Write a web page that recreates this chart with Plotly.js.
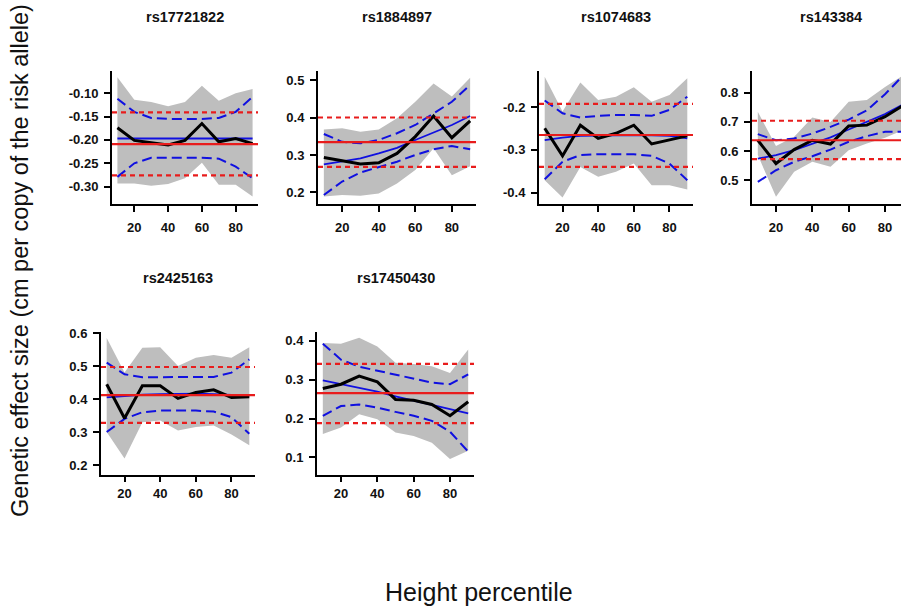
<!DOCTYPE html>
<html>
<head>
<meta charset="utf-8">
<script src="https://cdn.plot.ly/plotly-3.0.1.min.js"></script>
<style>
html,body{margin:0;padding:0;overflow:hidden;background:#fff;}
#chart{width:940px;height:613px;}
</style>
</head>
<body>
<div id="chart"></div>
<script>
// ---- data ----
const xPct = [10, 20, 30, 40, 50, 60, 70, 80, 90];
const xTickVals = [20, 40, 60, 80];
const xTickText = ['20', '40', '60', '80'];

const snps = ['rs17721822', 'rs1884897', 'rs1074683', 'rs143384', 'rs2425163', 'rs17450430'];

// rs17721822
const est1   = [-0.174, -0.201, -0.206, -0.211, -0.201, -0.165, -0.204, -0.197, -0.208];
const ciLo1  = [-0.293, -0.293, -0.298, -0.294, -0.282, -0.249, -0.296, -0.296, -0.321];
const ciHi1  = [-0.066, -0.114, -0.119, -0.128, -0.119, -0.084, -0.116, -0.100, -0.091];
const fit1   = [-0.197, -0.197, -0.197, -0.197, -0.197, -0.197, -0.197, -0.197, -0.197];
const fitLo1 = [-0.279, -0.250, -0.238, -0.238, -0.238, -0.238, -0.240, -0.257, -0.282];
const fitHi1 = [-0.112, -0.140, -0.153, -0.155, -0.155, -0.155, -0.153, -0.140, -0.108];

// rs1884897
const est2   = [0.293, 0.285, 0.276, 0.279, 0.304, 0.349, 0.404, 0.346, 0.391];
const ciLo2  = [0.189, 0.193, 0.191, 0.197, 0.224, 0.260, 0.318, 0.246, 0.270];
const ciHi2  = [0.368, 0.371, 0.362, 0.368, 0.398, 0.442, 0.491, 0.456, 0.506];
const fit2   = [0.275, 0.282, 0.291, 0.304, 0.319, 0.340, 0.359, 0.380, 0.404];
const fitLo2 = [0.193, 0.229, 0.253, 0.267, 0.282, 0.300, 0.315, 0.324, 0.315];
const fitHi2 = [0.356, 0.335, 0.331, 0.340, 0.358, 0.380, 0.411, 0.442, 0.487];

// rs1074683
const est3   = [-0.249, -0.314, -0.242, -0.273, -0.261, -0.242, -0.286, -0.277, -0.267];
const ciLo3  = [-0.371, -0.412, -0.340, -0.363, -0.351, -0.332, -0.383, -0.383, -0.393];
const ciHi3  = [-0.128, -0.210, -0.142, -0.183, -0.175, -0.153, -0.187, -0.171, -0.132];
const fit3   = [-0.277, -0.271, -0.267, -0.266, -0.265, -0.265, -0.266, -0.267, -0.273];
const fitLo3 = [-0.369, -0.328, -0.312, -0.310, -0.310, -0.310, -0.314, -0.332, -0.371];
const fitHi3 = [-0.184, -0.214, -0.224, -0.220, -0.218, -0.218, -0.220, -0.206, -0.175];

// rs143384
const est4   = [0.637, 0.557, 0.605, 0.637, 0.624, 0.686, 0.689, 0.718, 0.757];
const ciLo4  = [0.586, 0.443, 0.529, 0.563, 0.546, 0.603, 0.626, 0.646, 0.672];
const ciHi4  = [0.735, 0.617, 0.649, 0.715, 0.700, 0.769, 0.775, 0.820, 0.860];
const fit4   = [0.574, 0.586, 0.603, 0.624, 0.647, 0.674, 0.700, 0.727, 0.760];
const fitLo4 = [0.494, 0.534, 0.563, 0.582, 0.605, 0.632, 0.651, 0.666, 0.666];
const fitHi4 = [0.658, 0.637, 0.643, 0.660, 0.683, 0.708, 0.740, 0.795, 0.860];

// rs2425163
const est5   = [0.445, 0.342, 0.440, 0.440, 0.402, 0.420, 0.428, 0.405, 0.407];
const ciLo5  = [0.300, 0.220, 0.330, 0.335, 0.305, 0.315, 0.320, 0.293, 0.260];
const ciHi5  = [0.585, 0.480, 0.555, 0.557, 0.500, 0.525, 0.533, 0.525, 0.557];
const fit5   = [0.405, 0.410, 0.413, 0.415, 0.416, 0.416, 0.415, 0.413, 0.410];
const fitLo5 = [0.300, 0.340, 0.360, 0.365, 0.365, 0.365, 0.362, 0.345, 0.295];
const fitHi5 = [0.510, 0.475, 0.466, 0.466, 0.467, 0.467, 0.467, 0.480, 0.520];

// rs17450430
const est6   = [0.277, 0.288, 0.309, 0.294, 0.249, 0.247, 0.236, 0.207, 0.243];
const ciLo6  = [0.160, 0.177, 0.211, 0.198, 0.164, 0.155, 0.138, 0.096, 0.117];
const ciHi6  = [0.394, 0.392, 0.407, 0.385, 0.343, 0.340, 0.334, 0.317, 0.377];
const fit6   = [0.298, 0.288, 0.279, 0.269, 0.257, 0.246, 0.235, 0.224, 0.213];
const fitLo6 = [0.207, 0.232, 0.236, 0.228, 0.217, 0.207, 0.194, 0.166, 0.115];
const fitHi6 = [0.392, 0.351, 0.333, 0.323, 0.313, 0.302, 0.292, 0.288, 0.313];

// overall (pooled) estimate and its CI per SNP
const overall   = [-0.209, 0.334, -0.265, 0.637, 0.412, 0.265];
const overallLo = [-0.276, 0.268, -0.340, 0.572, 0.328, 0.188];
const overallHi = [-0.141, 0.400, -0.192, 0.704, 0.497, 0.340];

// y tick labels per panel
const yTickVals = [
  [-0.30, -0.25, -0.20, -0.15, -0.10],
  [0.2, 0.3, 0.4, 0.5],
  [-0.4, -0.3, -0.2],
  [0.5, 0.6, 0.7, 0.8],
  [0.2, 0.3, 0.4, 0.5, 0.6],
  [0.1, 0.2, 0.3, 0.4]
];
const yTickText = [
  ['-0.30', '-0.25', '-0.20', '-0.15', '-0.10'],
  ['0.2', '0.3', '0.4', '0.5'],
  ['-0.4', '-0.3', '-0.2'],
  ['0.5', '0.6', '0.7', '0.8'],
  ['0.2', '0.3', '0.4', '0.5', '0.6'],
  ['0.1', '0.2', '0.3', '0.4']
];

const xTitle = 'Height percentile';
const yTitle = 'Genetic effect size (cm per copy of the risk allele)';

// ---- layout geometry (pixels) ----
const W = 940, H = 613;
const xRange = [6.8, 93.2];
const yRanges = [[-0.337, -0.052], [0.169, 0.525], [-0.427, -0.114], [0.418, 0.876], [0.17, 0.603], [0.055, 0.422]];
const panelX = [[112, 258], [318, 476], [539, 693], [752, 909], [101, 255], [317, 474]];
const panelY = [[70.7, 204], [70.7, 204], [70.7, 204], [70.7, 204], [332, 475], [332, 475]];

const ests = [est1, est2, est3, est4, est5, est6];
const ciLos = [ciLo1, ciLo2, ciLo3, ciLo4, ciLo5, ciLo6];
const ciHis = [ciHi1, ciHi2, ciHi3, ciHi4, ciHi5, ciHi6];
const fits = [fit1, fit2, fit3, fit4, fit5, fit6];
const fitLos = [fitLo1, fitLo2, fitLo3, fitLo4, fitLo5, fitLo6];
const fitHis = [fitHi1, fitHi2, fitHi3, fitHi4, fitHi5, fitHi6];

const BLUE = '#1010e0', RED = '#e81c1c', GRAY = '#bebebe';
const tickFont = {family: 'Liberation Sans, Arial, sans-serif', size: 13, color: '#111', weight: 'bold'};

const traces = [];
const shapes = [];
const annotations = [];
const layout = {
  width: W, height: H,
  margin: {l: 0, r: 0, t: 0, b: 0},
  paper_bgcolor: '#fff', plot_bgcolor: '#fff',
  showlegend: false,
  shapes: shapes, annotations: annotations
};

for (let i = 0; i < 6; i++) {
  const n = i + 1;
  const xa = 'x' + (n > 1 ? n : '');
  const ya = 'y' + (n > 1 ? n : '');
  const xKey = 'xaxis' + (n > 1 ? n : '');
  const yKey = 'yaxis' + (n > 1 ? n : '');
  const bottomRow = i >= 4;

  // confidence band of the per-percentile estimates
  traces.push({
    x: xPct.concat(xPct.slice().reverse()),
    y: ciHis[i].concat(ciLos[i].slice().reverse()),
    xaxis: xa, yaxis: ya, mode: 'lines', fill: 'toself',
    fillcolor: GRAY, line: {width: 0, color: 'rgba(0,0,0,0)'}, hoverinfo: 'skip'
  });
  // fitted trend and its CI
  [fitLos[i], fitHis[i]].forEach(arr => traces.push({
    x: xPct, y: arr, xaxis: xa, yaxis: ya, mode: 'lines',
    line: {color: BLUE, width: 2, dash: '10px,5px'}
  }));
  traces.push({x: xPct, y: fits[i], xaxis: xa, yaxis: ya, mode: 'lines',
    line: {color: BLUE, width: 1.8}});
  // per-percentile estimates
  traces.push({x: xPct, y: ests[i], xaxis: xa, yaxis: ya, mode: 'lines',
    line: {color: '#000', width: 3}});

  // overall estimate (horizontal lines across the panel)
  [[overall[i], 2.2, 'solid'], [overallLo[i], 2.2, '5px,4px'], [overallHi[i], 2.2, '5px,4px']].forEach(s => shapes.push({
    type: 'line', xref: xa + ' domain', yref: ya, x0: 0, x1: 1, y0: s[0], y1: s[0],
    line: {color: RED, width: s[1], dash: s[2]}, layer: 'above'
  }));

  layout[xKey] = {
    domain: [panelX[i][0] / W, panelX[i][1] / W],
    range: xRange, anchor: ya, fixedrange: true,
    showline: true, linewidth: 2, linecolor: '#000', mirror: false,
    showgrid: false, zeroline: false,
    ticks: 'outside', ticklen: bottomRow ? 5 : 6, tickwidth: 2, tickcolor: '#000',
    tickvals: xTickVals, ticktext: xTickText, tickfont: tickFont,
    ticklabelstandoff: bottomRow ? 0 : 4
  };
  layout[yKey] = {
    domain: [1 - panelY[i][1] / H, 1 - panelY[i][0] / H],
    range: yRanges[i], anchor: xa, fixedrange: true,
    showline: true, linewidth: 2, linecolor: '#000', mirror: false,
    showgrid: false, zeroline: false,
    ticks: 'outside', ticklen: 6, tickwidth: 2, tickcolor: '#000',
    tickvals: yTickVals[i], ticktext: yTickText[i], tickfont: tickFont,
    ticklabelstandoff: 3
  };

  annotations.push({
    text: snps[i], xref: xa + ' domain', yref: ya + ' domain', x: 0.5, y: 1,
    xanchor: 'center', yanchor: 'bottom', yshift: 44, showarrow: false,
    font: {family: 'Liberation Sans, Arial, sans-serif', size: 14.5, color: '#111', weight: 'bold'}
  });
}

annotations.push({
  text: xTitle, xref: 'paper', yref: 'paper', x: 479 / W, y: 1 - 592 / H,
  xanchor: 'center', yanchor: 'middle', showarrow: false,
  font: {family: 'Liberation Sans, Arial, sans-serif', size: 25, color: '#111'}
});
annotations.push({
  text: yTitle, xref: 'paper', yref: 'paper', x: 20 / W, y: 1 - 261 / H,
  xanchor: 'center', yanchor: 'middle', textangle: -90, showarrow: false,
  font: {family: 'Liberation Sans, Arial, sans-serif', size: 23.5, color: '#111'}
});

Plotly.newPlot('chart', traces, layout, {staticPlot: true, displayModeBar: false});
</script>
</body>
</html>
